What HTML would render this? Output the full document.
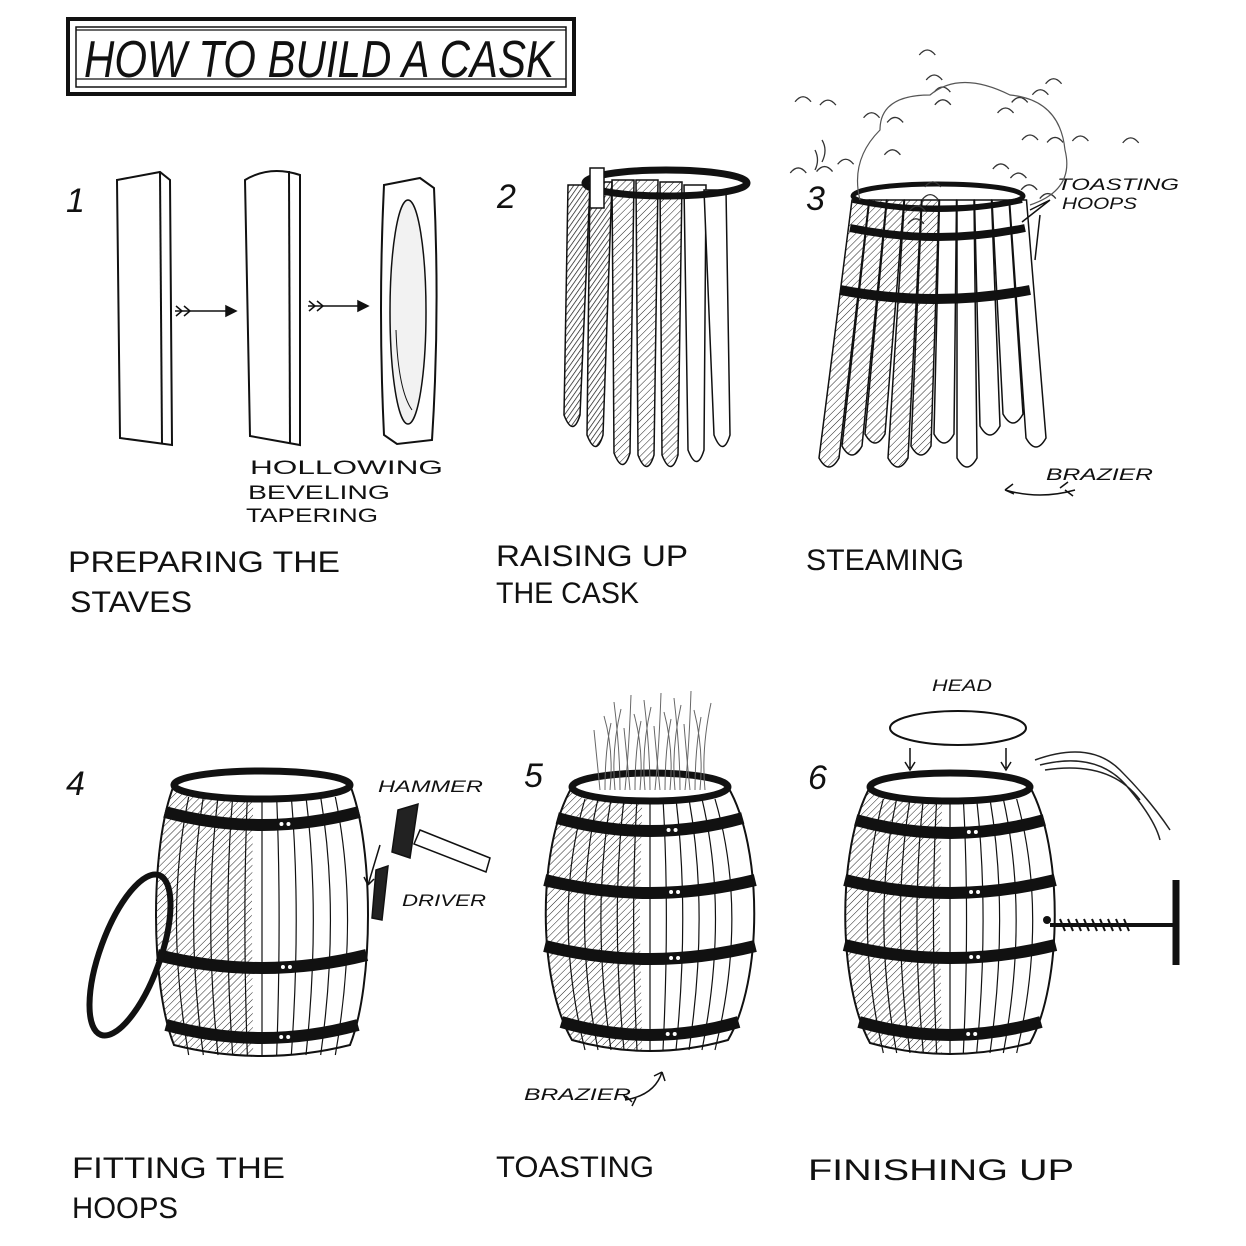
<!DOCTYPE html>
<html><head><meta charset="utf-8"><style>
html,body{margin:0;padding:0;background:#fff;}
svg{display:block;}
.h{font-family:"Liberation Sans",sans-serif;fill:#111;}
</style></head><body>
<svg id="s" width="1246" height="1246" viewBox="0 0 1246 1246" xmlns="http://www.w3.org/2000/svg">
<defs>
<pattern id="hat" width="5" height="5" patternUnits="userSpaceOnUse" patternTransform="rotate(45)"><line x1="0" y1="0" x2="0" y2="5" stroke="#222" stroke-width="1"/></pattern>
<pattern id="hat2" width="4" height="4" patternUnits="userSpaceOnUse" patternTransform="rotate(35)"><line x1="0" y1="0" x2="0" y2="4" stroke="#111" stroke-width="1.4"/></pattern>
</defs>
<rect x="68" y="19" width="506" height="75" fill="none" stroke="#111" stroke-width="4"/>
<rect x="76" y="27" width="490" height="60" fill="none" stroke="#111" stroke-width="1.5"/>
<line x1="76" y1="30" x2="566" y2="30" stroke="#111" stroke-width="1.2"/>
<line x1="76" y1="79" x2="566" y2="79" stroke="#111" stroke-width="1.2"/>
<text class="h" font-style="italic" x="84" y="77" font-size="52" textLength="470" lengthAdjust="spacingAndGlyphs">HOW TO BUILD A CASK</text>

<g class="h" font-size="34" font-family="Liberation Serif" font-style="italic">
<text x="66" y="212">1</text><text x="497" y="208">2</text><text x="806" y="210">3</text>
<text x="66" y="795">4</text><text x="524" y="787">5</text><text x="808" y="789">6</text>
</g>
<g class="h" font-size="30">
<text x="68" y="572" textLength="272" lengthAdjust="spacingAndGlyphs">PREPARING THE</text>
<text x="70" y="612" textLength="122" lengthAdjust="spacingAndGlyphs">STAVES</text>
<text x="496" y="566" textLength="192" lengthAdjust="spacingAndGlyphs">RAISING UP</text>
<text x="496" y="603" textLength="143" lengthAdjust="spacingAndGlyphs">THE CASK</text>
<text x="806" y="570" textLength="158" lengthAdjust="spacingAndGlyphs">STEAMING</text>
<text x="72" y="1178" textLength="213" lengthAdjust="spacingAndGlyphs">FITTING THE</text>
<text x="72" y="1218" textLength="106" lengthAdjust="spacingAndGlyphs">HOOPS</text>
<text x="496" y="1177" textLength="158" lengthAdjust="spacingAndGlyphs">TOASTING</text>
<text x="808" y="1180" textLength="266" lengthAdjust="spacingAndGlyphs">FINISHING UP</text>
</g>
<g class="h" font-size="19">
<text x="250" y="474" textLength="193" lengthAdjust="spacingAndGlyphs">HOLLOWING</text>
<text x="248" y="499" textLength="142" lengthAdjust="spacingAndGlyphs">BEVELING</text>
<text x="246" y="522" textLength="132" lengthAdjust="spacingAndGlyphs">TAPERING</text>
</g>
<g class="h" font-size="17" font-style="italic">
<text x="1057" y="190" textLength="122" lengthAdjust="spacingAndGlyphs">TOASTING</text>
<text x="1062" y="209" textLength="75" lengthAdjust="spacingAndGlyphs">HOOPS</text>
<text x="1046" y="480" textLength="107" lengthAdjust="spacingAndGlyphs">BRAZIER</text>
<text x="378" y="792" textLength="105" lengthAdjust="spacingAndGlyphs">HAMMER</text>
<text x="402" y="906" textLength="84" lengthAdjust="spacingAndGlyphs">DRIVER</text>
<text x="524" y="1100" textLength="107" lengthAdjust="spacingAndGlyphs">BRAZIER</text>
<text x="932" y="691" textLength="60" lengthAdjust="spacingAndGlyphs">HEAD</text>
</g>

<g fill="#fff" stroke="#111" stroke-width="2">
<path d="M117 180 L160 172 L170 180 L172 445 L120 438 Z"/>
<line x1="160" y1="172" x2="162" y2="444"/>
<path d="M245 180 Q270 165 300 175 L300 445 L250 436 Z"/>
<line x1="289" y1="171" x2="290" y2="444"/>
<path d="M384 185 L420 178 L434 188 Q440 315 432 440 L397 444 L384 435 Q378 310 384 185 Z"/>
<ellipse cx="408" cy="312" rx="18" ry="112" fill="#f2f2f2" stroke-width="1.5"/>
<path d="M396 330 Q398 390 412 410" stroke-width="1" fill="none"/>
</g>
<g stroke="#111" stroke-width="1.5" fill="none">
<line x1="175" y1="311" x2="232" y2="311"/><path d="M226 306 L236 311 L226 316Z" fill="#111"/>
<path d="M176 306 l6 5 -6 5 M184 306 l6 5 -6 5"/>
<line x1="308" y1="306" x2="364" y2="306"/><path d="M358 301 L368 306 L358 311Z" fill="#111"/>
<path d="M309 301 l6 5 -6 5 M317 301 l6 5 -6 5"/>
</g>
<g id="dyn"></g>
</svg>
<script>
var g=document.getElementById('dyn'),o='';
function P(d,a){o+='<path d="'+d+'" '+(a||'fill="none" stroke="#111" stroke-width="1.5"')+'/>';}
var st=[[568,185,562,430],[590,182,585,450],[612,180,612,468],[636,180,636,470],[660,182,660,470],[684,185,686,465],[704,190,712,450]];
for(var i=0;i<st.length;i++){var s=st[i],w=22;
P('M'+s[0]+' '+s[1]+' L'+(s[0]+w)+' '+s[1]+' L'+(s[2]+w-4)+' '+(s[3]-15)+' Q'+(s[2]+w/2)+' '+(s[3]+8)+' '+(s[2]+2)+' '+(s[3]-15)+' Z',
 'fill="'+(i<2?'url(#hat2)':(i<5?'url(#hat)':'#fff'))+'" stroke="#111" stroke-width="1.5"');}
o+='<ellipse cx="666" cy="183" rx="81" ry="13" fill="none" stroke="#111" stroke-width="7"/>';
o+='<rect x="590" y="168" width="14" height="40" fill="#fff" stroke="#111" stroke-width="1.5"/>';
var n=10;for(var i=0;i<n;i++){var x1=852+i*17.5,x2=818+i*23,yb=470-(i%3)*12+ (i>6?-20:0);
P('M'+x1+' 200 L'+(x1+17)+' 200 L'+(x2+21)+' '+(yb-12)+' Q'+(x2+11)+' '+(yb+6)+' '+(x2+1)+' '+(yb-12)+' Z','fill="'+(i<5?'url(#hat)':'#fff')+'" stroke="#111" stroke-width="1.5"');}
[[200,853,1022,6],[228,850,1025,8],[290,840,1030,10]].forEach(function(h){P('M'+h[1]+' '+h[0]+' Q'+((h[1]+h[2])/2)+' '+(h[0]+18)+' '+h[2]+' '+h[0],'fill="none" stroke="#111" stroke-width="'+h[3]+'"');});
o+='<ellipse cx="938" cy="196" rx="85" ry="12" fill="none" stroke="#111" stroke-width="5"/>';
for(var i=0;i<28;i++){var a=i*0.9,r=40+(i%5)*14,cx=950+Math.cos(a)*r*1.8,cy=140+Math.sin(a)*r*0.9;
P('M'+cx+' '+cy+' q8 -10 16 0','fill="none" stroke="#333" stroke-width="1.3"');}
P('M860 200 Q850 160 880 130 Q880 95 930 95 Q960 70 1010 95 Q1060 100 1065 150 Q1075 190 1030 205','fill="none" stroke="#555" stroke-width="1.2"');
P('M815 150 q5 10 0 20 M822 140 q6 10 0 22','fill="none" stroke="#333" stroke-width="1.3"');
P('M1050 200 L1030 210 M1050 200 L1022 222 M1040 215 L1035 260','fill="none" stroke="#111" stroke-width="1.5"');
P('M1075 490 Q1040 500 1005 490 M1005 490 l8 -6 M1005 490 l9 4 M1060 488 l8 -6 M1065 490 l8 6','fill="none" stroke="#111" stroke-width="1.5"');
function barrel(cx,t,b,w1,wm,hoops){
 var m=(t+b)/2,d='M'+(cx-w1)+' '+t+' C'+(cx-wm-10)+' '+(t+60)+' '+(cx-wm-10)+' '+(b-60)+' '+(cx-w1)+' '+b+' Q'+cx+' '+(b+22)+' '+(cx+w1)+' '+b+' C'+(cx+wm+10)+' '+(b-60)+' '+(cx+wm+10)+' '+(t+60)+' '+(cx+w1)+' '+t+' Z';
 P(d,'fill="#fff" stroke="#111" stroke-width="2"');
 var d2='M'+(cx-w1)+' '+t+' C'+(cx-wm-10)+' '+(t+60)+' '+(cx-wm-10)+' '+(b-60)+' '+(cx-w1)+' '+b+' L'+(cx-w1*0.1)+' '+(b+12)+' L'+(cx-wm*0.1)+' '+m+' L'+(cx-w1*0.1)+' '+(t+14)+' Z';
 P(d2,'fill="url(#hat)" stroke="none"');
 for(var k=-5;k<=5;k++){var f=k/6;P('M'+(cx+w1*f)+' '+(t+12)+' Q'+(cx+wm*f*1.15)+' '+m+' '+(cx+w1*f)+' '+(b+10),'fill="none" stroke="#111" stroke-width="1.2"');}
 o+='<ellipse cx="'+cx+'" cy="'+t+'" rx="'+w1+'" ry="14" fill="#fff" stroke="#111" stroke-width="7"/>';
 hoops.forEach(function(y){var tt=(y-m)/((b-t)/2),ww=wm-(wm-w1)*tt*tt+4;
  P('M'+(cx-ww)+' '+y+' Q'+cx+' '+(y+26)+' '+(cx+ww)+' '+y,'fill="none" stroke="#111" stroke-width="12"');
  o+='<circle cx="'+(cx+ww*0.2)+'" cy="'+(y+12)+'" r="2" fill="#fff"/><circle cx="'+(cx+ww*0.2+7)+'" cy="'+(y+12)+'" r="2" fill="#fff"/>';});
}
barrel(262,785,1045,88,102,[812,955,1025]);
barrel(650,787,1040,78,103,[818,880,946,1022]);
barrel(950,787,1043,80,103,[820,880,945,1022]);
o+='<ellipse cx="130" cy="955" rx="30" ry="85" transform="rotate(20 130 955)" fill="none" stroke="#111" stroke-width="6"/>';
P('M420 830 L490 858 L486 872 L414 844 Z','fill="#fff" stroke="#111" stroke-width="1.5"');
P('M398 810 L418 804 L410 858 L392 852 Z','fill="#222" stroke="#111" stroke-width="1.5"');
P('M376 870 L388 866 L382 920 L372 918 Z','fill="#222" stroke="#111" stroke-width="1.5"');
P('M380 845 L368 885 M368 885 l-4 -8 M368 885 l6 -6','fill="none" stroke="#111" stroke-width="1.5"');
for(var i=0;i<22;i++){var x=600+i*5;P('M'+x+' 790 q'+(i%3*4-4)+' -40 '+(i%2?6:-6)+' -'+(60+(i*7)%40),'fill="none" stroke="#666" stroke-width="1"');}
P('M625 1100 Q655 1095 662 1072 M662 1072 l-8 4 M662 1072 l3 9 M632 1102 l-6 -6 M636 1098 l-4 8','fill="none" stroke="#111" stroke-width="1.5"');
o+='<ellipse cx="958" cy="728" rx="68" ry="17" fill="#fff" stroke="#111" stroke-width="2"/>';
P('M910 748 L910 768 M905 762 l5 8 5 -8 M1006 748 L1006 768 M1001 762 l5 8 5 -8','fill="none" stroke="#111" stroke-width="1.5"');
P('M1035 760 Q1090 740 1120 770 Q1150 800 1170 830 M1040 765 Q1100 750 1130 790 Q1155 820 1160 840 M1045 770 Q1110 760 1140 800','fill="none" stroke="#222" stroke-width="1.5"');
P('M1050 925 L1175 925','fill="none" stroke="#111" stroke-width="4"');
for(var x=1060;x<1130;x+=8)P('M'+x+' 919 l5 12','fill="none" stroke="#111" stroke-width="2"');
P('M1176 880 L1176 965','fill="none" stroke="#111" stroke-width="7"');
o+='<circle cx="1047" cy="920" r="4" fill="#111"/>';
g.innerHTML=o;
</script>
</body></html>
